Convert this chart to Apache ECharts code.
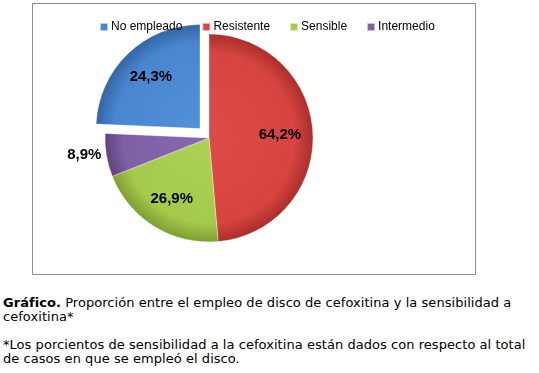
<!DOCTYPE html>
<html>
<head>
<meta charset="utf-8">
<script src="https://cdn.jsdelivr.net/npm/echarts@6/dist/echarts.min.js"></script>
<style>
  html, body { margin: 0; padding: 0; background: #fff; }
  #chart { position: absolute; left: 0; top: 0; width: 539px; height: 280px; }
  #caption { position: absolute; left: 3px; top: 296px; font-family: "DejaVu Sans", Verdana, sans-serif; font-size: 13px; letter-spacing: 0.05px; line-height: 14px; color: #000; white-space: nowrap; }
  #caption p { margin: 0 0 14px 0; }
</style>
</head>
<body>
<div id="chart"></div>
<div id="caption">
  <p><b>Gráfico.</b> Proporción entre el empleo de disco de cefoxitina y la sensibilidad a<br>cefoxitina*</p>
  <p>*Los porcientos de sensibilidad a la cefoxitina están dados con respecto al total<br>de casos en que se empleó el disco.</p>
</div>
<script>
// Legend order as shown in the reference
const legendOrder = ['No empleado', 'Resistente', 'Sensible', 'Intermedio'];
// Slice order (clockwise from 12 o'clock)
const categories = ['Resistente', 'Sensible', 'Intermedio', 'No empleado'];
// Percent labels printed on the slices
const labelPct = [64.2, 26.9, 8.9, 24.3];
// Share of the whole disc occupied by each slice
const sliceShare = [48.6, 20.4, 6.7, 24.3];

const baseColors = {
  'No empleado': ['#5290D8', '#4A86CF', '#3465A6'],
  'Resistente': ['#DE4C47', '#D84440', '#A92F2C'],
  'Sensible':   ['#AED256', '#A5C94B', '#7F9E34'],
  'Intermedio': ['#8869AE', '#7F60A6', '#5E437F']
};

const cx = 209, cy = 138, R = 104;

function grad(name) {
  const c = baseColors[name];
  return {
    type: 'radial', x: cx, y: cy, r: R, global: true,
    colorStops: [
      { offset: 0, color: c[0] },
      { offset: 0.82, color: c[1] },
      { offset: 1, color: c[2] }
    ]
  };
}

const fmt = v => v.toFixed(1).replace('.', ',') + '%';

const mainData = categories.map((name, i) => ({
  name: name,
  value: sliceShare[i],
  selected: name === 'No empleado',
  itemStyle: { color: grad(name) }
}));

const labelData = categories.map((name, i) => {
  const d = {
    name: name,
    value: sliceShare[i],
    selected: name === 'No empleado',
    pct: labelPct[i]
  };
  if (name === 'Intermedio') {
    d.label = { position: 'outside' };
    d.labelLine = { show: false, length: 0, length2: 0 };
  }
  return d;
});

const chart = echarts.init(document.getElementById('chart'), null, { renderer: 'canvas' });
chart.setOption({
  animation: false,
  legend: {
    data: legendOrder.map(n => ({ name: n, itemStyle: { color: baseColors[n][1] } })),
    left: 94,
    top: 16,
    icon: 'rect',
    itemWidth: 8,
    itemHeight: 8,
    itemGap: 19,
    selectedMode: false,
    textStyle: { fontFamily: 'Liberation Sans, Arial, sans-serif', fontSize: 12, color: '#000', padding: [0, 0, 0, -2] }
  },
  graphic: [{
    type: 'rect',
    shape: { x: 32.5, y: 3.5, width: 443, height: 271 },
    style: { fill: 'none', stroke: '#8c8c8c', lineWidth: 1 },
    silent: true,
    z: -1
  }],
  series: [
    {
      type: 'pie',
      center: [cx, cy],
      radius: [0, R],
      startAngle: 90,
      clockwise: true,
      selectedMode: 'single',
      selectedOffset: 13,
      avoidLabelOverlap: false,
      label: { show: false },
      labelLine: { show: false },
      itemStyle: { borderColor: 'rgba(255,255,255,0.6)', borderWidth: 0.6 },
      emphasis: { disabled: true },
      data: mainData
    },
    {
      type: 'pie',
      center: [cx, cy],
      radius: [32, R],
      startAngle: 90,
      clockwise: true,
      selectedMode: 'single',
      selectedOffset: 13,
      avoidLabelOverlap: false,
      silent: true,
      itemStyle: { color: 'rgba(0,0,0,0)', borderWidth: 0 },
      label: {
        show: true,
        position: 'inside',
        color: '#000',
        fontFamily: 'Liberation Sans, Arial, sans-serif',
        fontWeight: 'bold',
        fontSize: 15,
        formatter: p => fmt(p.data.pct)
      },
      labelLine: { show: false },
      emphasis: { disabled: true },
      data: labelData
    }
  ]
});
</script>
</body>
</html>
